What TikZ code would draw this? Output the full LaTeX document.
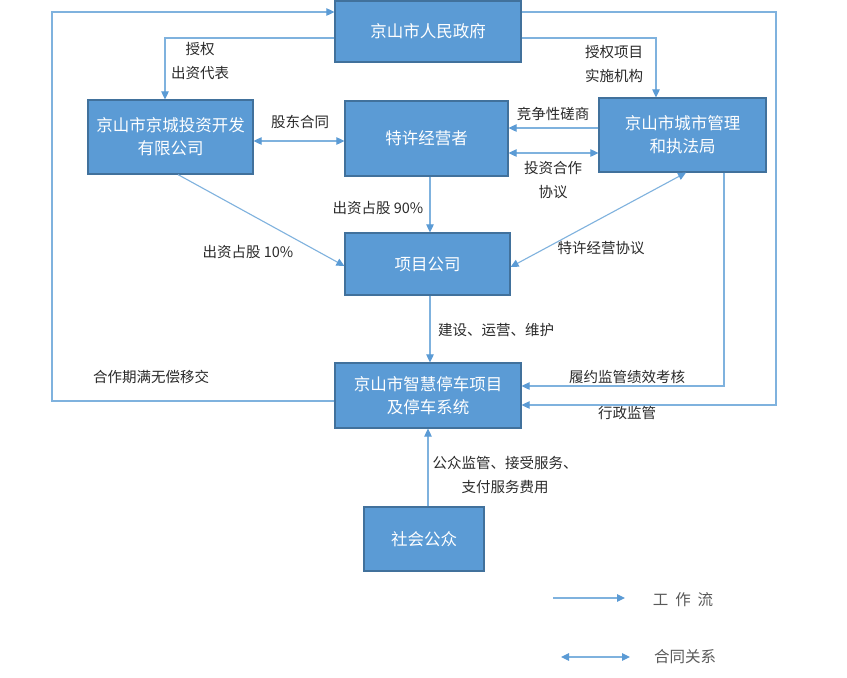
\documentclass[tikz,border=0pt]{standalone}
\usepackage{fontspec}
\setmainfont{Noto Sans CJK SC}
\usetikzlibrary{arrows.meta}
\definecolor{boxfill}{HTML}{5B9BD5}
\definecolor{boxline}{HTML}{41719C}
\definecolor{linecol}{HTML}{7FB2DE}
\definecolor{tipcol}{HTML}{5B9BD5}
\definecolor{labcol}{HTML}{2A2A2A}
\definecolor{legcol}{HTML}{5A5A5A}
\tikzset{
  box/.style={draw=boxline, line width=1.2pt, fill=boxfill, text=white, align=center,
    font=\fontsize{16.5}{23}\selectfont, inner sep=0pt},
  lab/.style={text=labcol, font=\fontsize{14.5}{24}\selectfont, align=center, inner sep=1pt},
  flow/.style={draw=linecol, line width=1.1pt, -{Triangle[length=8pt,width=7.5pt,color=tipcol]}},
  contract/.style={draw=linecol, line width=1.1pt, {Triangle[length=8pt,width=7.5pt,color=tipcol]}-{Triangle[length=8pt,width=7.5pt,color=tipcol]}},
}
\begin{document}
\begin{tikzpicture}[x=1pt,y=-1pt]
\useasboundingbox[fill=white] (0,0) rectangle (847,678);
% boxes
\node[box, minimum width=186pt, minimum height=61pt] (gov) at (428,31.5) {京山市人民政府};
\node[box, minimum width=165pt, minimum height=74pt] (jc) at (170.5,137) {京山市京城投资开发\\有限公司};
\node[box, minimum width=163pt, minimum height=75pt] (tx) at (426.5,138.5) {特许经营者};
\node[box, minimum width=167pt, minimum height=74pt] (cg) at (682.5,135) {京山市城市管理\\和执法局};
\node[box, minimum width=165pt, minimum height=62pt] (xm) at (427.5,264) {项目公司};
\node[box, minimum width=186pt, minimum height=65pt] (zh) at (428,395.5) {京山市智慧停车项目\\及停车系统};
\node[box, minimum width=120pt, minimum height=64pt] (sh) at (424,539) {社会公众};
% coordinates
\coordinate (LT) at (52,12);
\coordinate (LB) at (52,401);
\coordinate (RT) at (776,12);
\coordinate (RB) at (776,405);
\coordinate (CB) at (724,386);
\coordinate (GJ) at (165,38);
\coordinate (GC) at (656,38);
\coordinate (JT) at (300,141);
\coordinate (CT1) at (550,128);
\coordinate (CT2) at (550,153);
\coordinate (V1) at (430,200);
\coordinate (V2) at (430,330);
\coordinate (V3) at (428,470);
\coordinate (JX1) at (178,174);
\coordinate (JX2) at (0,266);
\coordinate (CX1) at (686,173);
\coordinate (CX2) at (0,267);
% connectors
\draw[flow] (zh.west |- LB) -- (LB) -- (LT) -- (gov.west |- LT);
\draw[flow] (gov.east |- RT) -- (RT) -- (RB) -- (zh.east |- RB);
\draw[flow] (cg.south -| CB) -- (CB) -- (zh.east |- CB);
\draw[flow] (gov.west |- GJ) -- (GJ) -- (jc.north -| GJ);
\draw[flow] (gov.east |- GC) -- (GC) -- (cg.north -| GC);
\draw[contract] (jc.east |- JT) -- (tx.west |- JT);
\draw[flow] (cg.west |- CT1) -- (tx.east |- CT1);
\draw[contract] (tx.east |- CT2) -- (cg.west |- CT2);
\draw[flow] (tx.south -| V1) -- (xm.north -| V1);
\draw[flow] (jc.south -| JX1) -- (xm.west |- JX2);
\draw[contract] (xm.east |- CX2) -- (cg.south -| CX1);
\draw[flow] (xm.south -| V2) -- (zh.north -| V2);
\draw[flow] (sh.north -| V3) -- (zh.south -| V3);
% labels
\node[lab] (l1) at (200,61) {授权\\出资代表};
\node[lab] (l2) at (614,64) {授权项目\\实施机构};
\node[lab] (l3) at (300,122) {股东合同};
\node[lab] (l4) at (553,114) {竞争性磋商};
\node[lab] (l5) at (553,180) {投资合作\\协议};
\node[lab] (l6) at (378,208) {出资占股 90\%};
\node[lab] (l7) at (248,252) {出资占股 10\%};
\node[lab] (l8) at (601,248) {特许经营协议};
\node[lab] (l9) at (496,330) {建设、运营、维护};
\node[lab] (l10) at (151,377) {合作期满无偿移交};
\node[lab] (l11) at (627,377) {履约监管绩效考核};
\node[lab] (l12) at (627,413) {行政监管};
\node[lab] (l13) at (505,475) {公众监管、接受服务、\\支付服务费用};
% legend
\coordinate (A1) at (553,598);
\coordinate (A2) at (625,598);
\coordinate (B1) at (561,657);
\coordinate (B2) at (630,657);
\draw[flow] (A1) -- (A2);
\draw[contract] (B1) -- (B2);
\node[lab, text=legcol, font=\fontsize{15.5}{20}\selectfont] (g1) at (683,600) {工\ \ 作\ \ 流};
\node[lab, text=legcol, font=\fontsize{15.5}{20}\selectfont] (g2) at (685,657) {合同关系};
\end{tikzpicture}
\end{document}
